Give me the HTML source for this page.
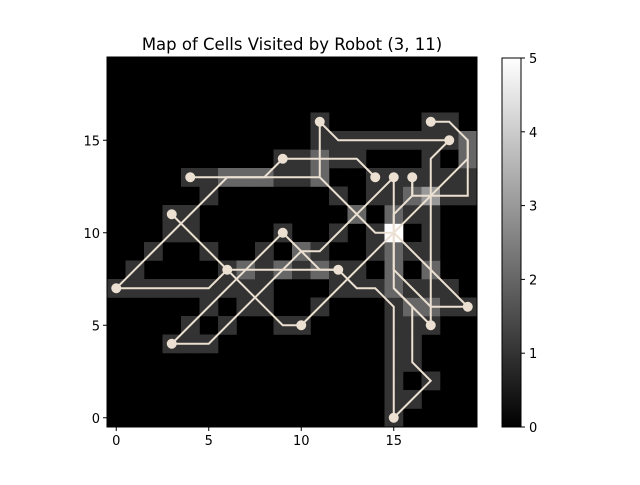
<!DOCTYPE html>
<html><head><meta charset="utf-8"><style>
body{margin:0;background:#fff;width:640px;height:480px;overflow:hidden}
svg{font-family:"DejaVu Sans","Liberation Sans",sans-serif}
</style></head><body>
<svg id="chart" width="640" height="480" viewBox="0 0 640 480" xmlns="http://www.w3.org/2000/svg">
<rect width="640" height="480" fill="#fff"/>
<text x="292" y="50" text-anchor="middle" font-size="16.5" fill="#000">Map of Cells Visited by Robot (3, 11)</text>
<g id="cells"></g>
<g id="paths"></g>
<g id="axes"></g>
<defs><linearGradient id="cg" x1="0" y1="1" x2="0" y2="0"><stop offset="0" stop-color="#000"/><stop offset="1" stop-color="#fff"/></linearGradient></defs>
<g id="cbar"></g>
</svg>
<script>
const xTicks=[0,5,10,15];
const yTicks=[0,5,10,15];
const cbTicks=[0,1,2,3,4,5];
const path1=[[0,7],[6,13],[8,13],[9,14],[13,14],[14,13]];
const path2=[[0,7],[5,7],[6,8],[12,8]];
const path3=[[3,11],[6,8],[9,5],[10,5]];
const path4=[[3,4],[9,10],[11,8],[12,8]];
const path5=[[3,4],[5,4],[10,9],[11,9],[15,13]];
const path6=[[12,8],[13,7],[14,7],[15,6],[15,0]];
const path7=[[11,16],[12,15],[18,15]];
const path8=[[11,16],[11,13],[14,10],[15,10]];
const path9=[[4,13],[11,13]];
const path10=[[17,16],[18,16],[19,15],[19,12],[16,12],[16,13]];
const path11=[[18,15],[17,14],[17,5]];
const path12=[[15,13],[15,7],[17,5]];
const path13=[[16,13],[16,12],[15,11],[15,8],[17,6],[19,6]];
const path14=[[15,10],[19,6]];
const path15=[[10,5],[19,14],[19,15]];
const path16=[[15,7],[16,6],[16,3],[17,2],[15,0]];
const paths=[path1,path2,path3,path4,path5,path6,path7,path8,path9,path10,path11,path12,path13,path14,path15,path16];
const markers=[[11,16],[17,16],[18,15],[9,14],[4,13],[14,13],[15,13],[16,13],[3,11],[9,10],[0,7],[6,8],[12,8],[19,6],[10,5],[17,5],[3,4],[15,0]];
const vmax=5;

const NS='http://www.w3.org/2000/svg';
const L=107,R=477,T=57,B=427,N=20,cw=(R-L)/N;
const sx=v=>L+(v+0.5)*cw, sy=v=>B-(v+0.5)*cw;
function mk(t,a,p){const e=document.createElementNS(NS,t);for(const k in a)e.setAttribute(k,a[k]);p.appendChild(e);return e;}
const grid=[];for(let i=0;i<N;i++){grid.push(new Array(N).fill(0));}
paths.forEach(p=>{const seen=new Set();
  for(let i=0;i<p.length-1;i++){let [x0,y0]=p[i];const [x1,y1]=p[i+1];
    const n=Math.max(Math.abs(x1-x0),Math.abs(y1-y0));
    for(let s=0;s<=n;s++){const x=Math.round(x0+(x1-x0)*s/n),y=Math.round(y0+(y1-y0)*s/n);seen.add(x+','+y);}}
  seen.forEach(k=>{const [x,y]=k.split(',').map(Number);if(x>=0&&x<N&&y>=0&&y<N)grid[y][x]++;});});
// endpoint cells (start/goal) are counted once
markers.forEach(m=>{if(grid[m[1]][m[0]]>1 && !(m[0]===15&&m[1]===10))grid[m[1]][m[0]]=1;});
const cells=document.getElementById('cells');
mk('rect',{x:L,y:T,width:R-L,height:B-T,fill:'#000'},cells);
for(let y=0;y<N;y++)for(let x=0;x<N;x++){const v=grid[y][x];if(!v)continue;
  const g=Math.round(Math.min(v,vmax)/vmax*255);
  const r=mk('rect',{x:(sx(x)-cw/2).toFixed(2),y:(sy(y)-cw/2).toFixed(2),width:(cw+0.3).toFixed(2),height:(cw+0.3).toFixed(2),fill:`rgb(${g},${g},${g})`},cells);
  
  }
const pg=document.getElementById('paths');
paths.forEach((p,i)=>{const pl=mk('polyline',{points:p.map(q=>sx(q[0])+','+sy(q[1])).join(' '),fill:'none',stroke:'#ebe0d2','stroke-width':2},pg);
  
  });
markers.forEach(m=>{const c=mk('circle',{cx:sx(m[0]),cy:sy(m[1]),r:5,fill:'#ebe0d2'},pg);
  
  });
const ax=document.getElementById('axes');
const fr=mk('rect',{x:L,y:T,width:R-L,height:B-T,fill:'none',stroke:'#000','stroke-width':1},ax);


xTicks.forEach(t=>{mk('line',{x1:sx(t),x2:sx(t),y1:B,y2:B+4,stroke:'#000'},ax);
  const tx=mk('text',{x:sx(t),y:B+18,'text-anchor':'middle','font-size':'13'},ax);tx.textContent=t;
  
  });
yTicks.forEach(t=>{mk('line',{x1:L-4,x2:L,y1:sy(t),y2:sy(t),stroke:'#000'},ax);
  const tx=mk('text',{x:L-7,y:sy(t)+5,'text-anchor':'end','font-size':'13'},ax);tx.textContent=t;
  
  });
const cb=document.getElementById('cbar');
const CL=502,CR=521,CT=58,CB=427;
mk('rect',{x:CL,y:CT,width:CR-CL,height:CB-CT,fill:'url(#cg)',stroke:'#000','stroke-width':1},cb);
cbTicks.forEach(t=>{const y=CB-(t/vmax)*(CB-CT);mk('line',{x1:CR,x2:CR+4,y1:y,y2:y,stroke:'#000'},cb);
  const tx=mk('text',{x:CR+8,y:y+5,'font-size':'13'},cb);tx.textContent=t;
  
  });
</script>
</body></html>
